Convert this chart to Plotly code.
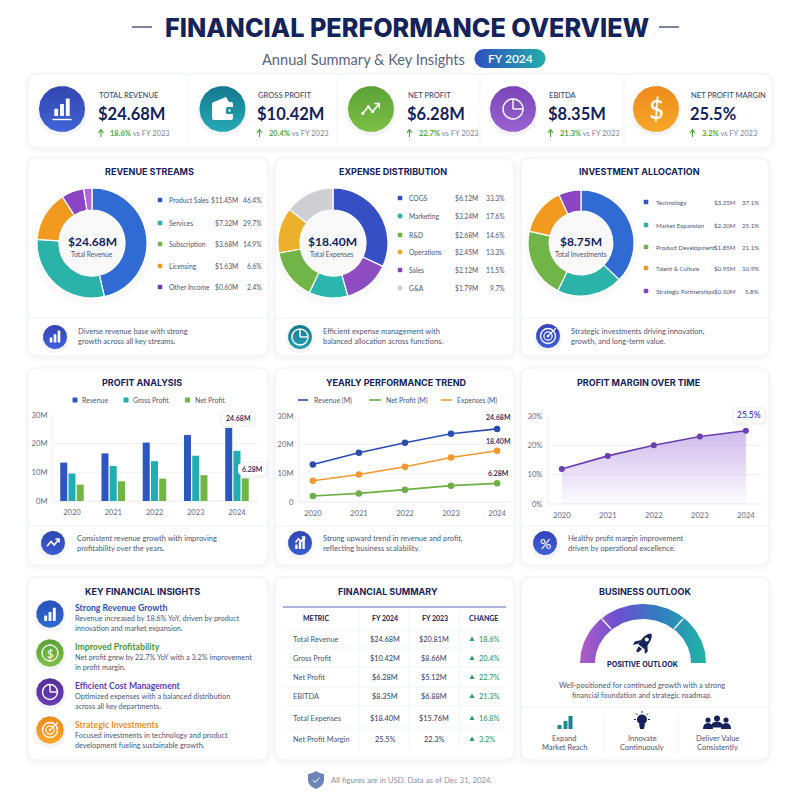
import numpy as np
import plotly.graph_objects as go

# ---------- data ----------
title_text = "FINANCIAL PERFORMANCE OVERVIEW"
subtitle_text = "Annual Summary &amp; Key Insights"
kpi_labels = ["TOTAL REVENUE", "GROSS PROFIT", "NET PROFIT", "EBITDA", "NET PROFIT MARGIN"]
kpi_values = ["$24.68M", "$10.42M", "$6.28M", "$8.35M", "25.5%"]
kpi_deltas = ["18.6%", "20.4%", "22.7%", "21.3%", "3.2%"]

rev_names = ["Product Sales", "Services", "Subscription", "Licensing", "Other Income"]
rev_amounts = ["$11.45M", "$7.32M", "$3.68M", "$1.63M", "$0.60M"]
rev_pcts = ["46.4%", "29.7%", "14.9%", "6.6%", "2.4%"]
rev_slices = [11.45, 7.32, 3.68, 1.63, 0.60]

exp_names = ["COGS", "Marketing", "R&amp;D", "Operations", "Sales", "G&amp;A"]
exp_amounts = ["$6.12M", "$3.24M", "$2.68M", "$2.45M", "$2.12M", "$1.79M"]
exp_pcts = ["33.3%", "17.6%", "14.6%", "13.3%", "11.5%", "9.7%"]
exp_slice_names = ["COGS", "Sales", "Marketing", "R&D", "Operations", "G&A"]
exp_slices = [32.0, 13.7, 11.4, 15.0, 13.3, 14.6]

inv_names = ["Technology", "Market Expansion", "Product Development", "Talent &amp; Culture", "Strategic Partnerships"]
inv_amounts = ["$3.25M", "$2.20M", "$1.85M", "$0.95M", "$0.50M"]
inv_pcts = ["37.1%", "25.1%", "21.1%", "10.9%", "5.8%"]
inv_slices = [37.2, 20.0, 21.4, 14.6, 6.8]

years = ["2020", "2021", "2022", "2023", "2024"]
bar_revenue = [13.4, 16.6, 20.4, 23.0, 25.5]
bar_gross = [9.6, 12.2, 13.9, 15.8, 17.5]
bar_net = [5.7, 6.9, 7.8, 9.0, 7.9]
line_revenue = [13.1, 17.2, 20.7, 23.8, 25.5]
line_net = [2.1, 3.0, 4.3, 5.7, 6.5]
line_expenses = [7.4, 9.6, 12.3, 15.5, 17.9]
margin = [11.9, 16.4, 20.0, 23.0, 25.0]

insight_heads = ["Strong Revenue Growth", "Improved Profitability", "Efficient Cost Management", "Strategic Investments"]
insight_lines = [
    ["Revenue increased by 18.6% YoY, driven by product", "innovation and market expansion."],
    ["Net profit grew by 22.7% YoY with a 3.2% improvement", "in profit margin."],
    ["Optimized expenses with a balanced distribution", "across all key departments."],
    ["Focused investments in technology and product", "development fueling sustainable growth."],
]
table_metrics = ["Total Revenue", "Gross Profit", "Net Profit", "EBITDA", "Total Expenses", "Net Profit Margin"]
table_fy24 = ["$24.68M", "$10.42M", "$6.28M", "$8.35M", "$18.40M", "25.5%"]
table_fy23 = ["$20.81M", "$8.66M", "$5.12M", "$6.88M", "$15.76M", "22.3%"]
table_change = ["18.6%", "20.4%", "22.7%", "21.3%", "16.8%", "3.2%"]

# ---------- style ----------
BODY = "Lato"
HEAD = "Inter"
NAVY = "#14235A"
TXT = "#4A5578"
GRAY = "#5F6B85"
BLUE, TEAL, GREEN, ORANGE, PURPLE = "#2F6BD2", "#2BB3AA", "#71B548", "#F2991F", "#8C45C2"
INDIGO = "#3550C4"

annots, shapes, traces = [], [], []


def T(x, y, s, size=8, color=TXT, w=400, a="left", font=BODY):
    annots.append(dict(x=x, y=y, xref="x", yref="y", text=s, showarrow=False, xanchor=a, yanchor="middle",
                       borderpad=0, font=dict(size=size, color=color, family=font, weight=w)))


def rr_path(x0, y0, x1, y1, r):
    return (f"M{x0+r},{y0} L{x1-r},{y0} Q{x1},{y0} {x1},{y0+r} L{x1},{y1-r} Q{x1},{y1} {x1-r},{y1} "
            f"L{x0+r},{y1} Q{x0},{y1} {x0},{y1-r} L{x0},{y0+r} Q{x0},{y0} {x0+r},{y0} Z")


def P(path, fill="rgba(0,0,0,0)", lc="rgba(0,0,0,0)", lw=0, layer="above"):
    shapes.append(dict(type="path", xref="x", yref="y", path=path, fillcolor=fill, layer=layer,
                       line=dict(color=lc, width=lw)))


def L(x0, y0, x1, y1, c="#EEF0F6", w=1, layer="above"):
    shapes.append(dict(type="line", xref="x", yref="y", x0=x0, y0=y0, x1=x1, y1=y1, layer=layer,
                       line=dict(color=c, width=w)))


def C(cx, cy, r, fill="rgba(0,0,0,0)", lc="rgba(0,0,0,0)", lw=0, layer="above"):
    shapes.append(dict(type="circle", xref="x", yref="y", x0=cx-r, y0=cy-r, x1=cx+r, y1=cy+r, layer=layer,
                       fillcolor=fill, line=dict(color=lc, width=lw)))


def card(x0, y0, x1, y1):
    for d, a in ((5, .006), (3, .010), (1.5, .016)):
        P(rr_path(x0-d, y0-d+2, x1+d, y1+d+2, 10+d), fill=f"rgba(50,60,120,{a})", layer="below")
    P(rr_path(x0, y0, x1, y1, 9), fill="#FFFFFF", lc="#EFF1F7", lw=1, layer="below")


def grad_poly(xs, ys, stops, kind="vertical"):
    traces.append(go.Scatter(x=list(xs), y=list(ys), mode="lines", line=dict(width=0), fill="toself",
                             fillgradient=dict(type=kind, colorscale=stops), hoverinfo="skip",
                             showlegend=False, xaxis="x", yaxis="y"))


def grad_circle(cx, cy, r, c_top, c_bot):
    C(cx, cy+2, r+2, fill="rgba(60,70,120,0.06)", layer="below")
    th = np.linspace(0, 2*np.pi, 90)
    grad_poly(cx+r*np.cos(th), cy+r*np.sin(th), [[0, c_top], [1, c_bot]])


def bars_icon(cx, cy, s, c="#FFFFFF", base=False):
    bw = s*0.24
    for i, h in enumerate((0.45, 0.75, 1.1)):
        x = cx + (i-1)*s*0.36
        P(rr_path(x-bw/2, cy+s*0.5-h*s, x+bw/2, cy+s*0.5, min(.6, bw/3)), fill=c)
    if base:
        L(cx-s*.6, cy+s*.72, cx+s*.6, cy+s*.72, c, 1.4)


def trend_icon(cx, cy, s, c="#FFFFFF", dots=True):
    pts = [(-.75, .4), (-.25, -.2), (.15, .25), (.7, -.45)]
    P("M" + " L".join(f"{cx+a*s},{cy+b*s}" for a, b in pts), lc=c, lw=1.6)
    if dots:
        for a, b in pts[:3]:
            C(cx+a*s, cy+b*s, 1.6, fill=c)
    P(f"M{cx+.3*s},{cy-.5*s} L{cx+.75*s},{cy-.5*s} L{cx+.75*s},{cy-.05*s}", lc=c, lw=1.6)


def pie_icon(cx, cy, r, c="#FFFFFF"):
    C(cx, cy, r, lc=c, lw=1.4)
    L(cx, cy, cx, cy-r, c, 1.4)
    L(cx, cy, cx+r, cy, c, 1.4)


def target_icon(cx, cy, r, c="#FFFFFF"):
    C(cx, cy, r, lc=c, lw=1.3)
    C(cx, cy, r*.55, lc=c, lw=1.2)
    C(cx, cy, r*.18, fill=c)
    L(cx, cy, cx+r*1.05, cy-r*1.05, c, 1.3)


def note(ix, iy, tx, lines, c_top, c_bot, draw, ly=(0, 0)):
    grad_circle(ix, iy, 12, c_top, c_bot)
    draw(ix, iy)
    T(tx, ly[0], lines[0], 7.5, TXT)
    T(tx, ly[1], lines[1], 7.5, TXT)


def legend_table(mx, lx, vx, px, ys, colors, names, amts, pcts, name_size=6.7, val_size=6.7):
    for i, y in enumerate(ys):
        P(rr_path(mx-2.3, y-2.3, mx+2.3, y+2.3, 1), fill=colors[i])
        T(lx, y, names[i], name_size, TXT)
        T(vx, y, amts[i], val_size, TXT, a="right")
        T(px, y, pcts[i], val_size, TXT, a="right")


# ---------- header ----------
T(407, 28, title_text, 25.2, NAVY, 800, "center", HEAD)
L(132, 27, 152, 27, "#5A6484", 1.6)
L(659, 27, 679, 27, "#5A6484", 1.6)
T(363.5, 59, subtitle_text, 14.6, "#5A6580", 400, "center")
th_l = np.linspace(np.pi/2, 3*np.pi/2, 24)
th_r = np.linspace(-np.pi/2, np.pi/2, 24)
grad_poly(np.r_[484+9.5*np.cos(th_l), 536+9.5*np.cos(th_r)], np.r_[58.5+9.5*np.sin(th_l), 58.5+9.5*np.sin(th_r)],
          [[0, "#2F4FC0"], [1, "#22ADAC"]], "horizontal")
T(510, 58.5, "FY 2024", 12, "#FFFFFF", 600, "center")

# ---------- KPI band ----------
card(28, 74, 772, 148)
kpi_cx = [62, 222.5, 371, 513, 656]
kpi_tx = [98, 256.5, 406.5, 547.5, 689.5]
kpi_grad = [("#3F63D6", "#3346B0"), ("#25AAB4", "#14788F"), ("#7DBF45", "#5BA238"),
            ("#9A62D2", "#7A45B8"), ("#F8A828", "#EE8A1E")]
for x in (188, 337, 480, 624):
    L(x, 78, x, 144, "#F1F3F8", 1)
for i in range(5):
    grad_circle(kpi_cx[i], 109, 23, *kpi_grad[i])
    T(kpi_tx[i], 95, kpi_labels[i], 7.6, "#3E4A6E", 500)
    T(kpi_tx[i]-1, 114, kpi_values[i], 16.5, NAVY, 700)
    dx = kpi_tx[i]
    P(f"M{dx+3},{133+4} L{dx+3},{133-3} M{dx+.5},{133} L{dx+3},{133-3.5} L{dx+5.5},{133}", lc="#4CA63F", lw=1.1)
    T(dx+11, 133, f"<b>{kpi_deltas[i]}</b> <span style='color:#7A849B'>vs FY 2023</span>", 7.5, "#4CA63F")
bars_icon(62, 108, 16, base=True)
P(rr_path(212, 102, 233, 120, 2), fill="#FFFFFF")
P("M214,102 L226,97 L229,102 Z", fill="#FFFFFF")
P(rr_path(226, 107, 234, 114, 1.5), fill="#1E8FA3")
C(229.5, 110.5, 1.2, fill="#FFFFFF")
trend_icon(371, 109, 11)
pie_icon(513, 109, 10)
T(656, 109, "$", 26, "#FFFFFF", 500, "center")

# ---------- row 2: donuts ----------
row2_x = [(28, 268), (275, 514), (521, 769)]
for x0, x1 in row2_x:
    card(x0, 158, x1, 356)
    L(x0, 318, x1, 318, "#F0F2F7", 1)
T(149, 171, "REVENUE STREAMS", 9, NAVY, 700, "center", HEAD)
T(393, 171, "EXPENSE DISTRIBUTION", 9, NAVY, 700, "center", HEAD)
T(639, 171, "INVESTMENT ALLOCATION", 9, NAVY, 700, "center", HEAD)


def donut(cx, cy, r, labels, vals, colors, hole=0.6):
    for d, a in ((6, .012), (3, .02)):
        C(cx, cy+3, r+d, fill=f"rgba(60,70,120,{a})", layer="below")
    traces.append(go.Pie(labels=labels, values=vals, hole=hole, sort=False, direction="clockwise", rotation=0,
                         textinfo="none", hoverinfo="label+percent", showlegend=False,
                         marker=dict(colors=colors, line=dict(color="#FFFFFF", width=1.2)),
                         domain=dict(x=[(cx-r)/800, (cx+r)/800], y=[1-(cy+r)/800, 1-(cy-r)/800])))


donut(92, 243, 55, rev_names, rev_slices, [BLUE, TEAL, ORANGE, PURPLE, "#A96AD2"])
donut(333, 243, 55, exp_slice_names, exp_slices, [INDIGO, "#8D4DC0", "#2BB5AC", GREEN, "#EDB02D", "#CFCFD3"])
donut(581, 243, 53, inv_names, inv_slices, [BLUE, "#2BB3AA", GREEN, ORANGE, PURPLE])

T(92, 241, "$24.68M", 12, NAVY, 700, "center")
T(92, 254, "Total Revenue", 6.7, TXT, 400, "center")
T(332, 241, "$18.40M", 12, NAVY, 700, "center")
T(332, 254, "Total Expenses", 6.7, TXT, 400, "center")
T(581, 241, "$8.75M", 12, NAVY, 700, "center")
T(581, 254, "Total Investments", 6.7, TXT, 400, "center")

legend_table(160, 168, 239, 263, [200, 223, 244, 266, 287],
             ["#2F55C8", "#2BB3AA", GREEN, ORANGE, "#6E3FA8"], rev_names, rev_amounts, rev_pcts)
legend_table(400, 408, 479, 506, [198, 216, 235, 252, 270, 288],
             ["#2F4FB8", "#2BB3AA", GREEN, "#EDB02D", PURPLE, "#CFCFD3"], exp_names, exp_amounts, exp_pcts)
legend_table(646, 655, 737, 760, [202, 225, 247, 268, 291],
             ["#2F55C8", "#2BB3AA", GREEN, ORANGE, PURPLE], inv_names, inv_amounts, inv_pcts, 6.1, 6.2)

note(55, 337, 77, ["Diverse revenue base with strong", "growth across all key streams."], "#4060D8", "#3444B8",
     lambda x, y: bars_icon(x, y, 11), (331, 341))
note(300, 337, 322, ["Efficient expense management with", "balanced allocation across functions."], "#25A0AE", "#167A90",
     lambda x, y: pie_icon(x, y, 8), (331, 341))
note(548, 336, 570, ["Strategic investments driving innovation,", "growth, and long-term value."], "#4060D8", "#3444B8",
     lambda x, y: target_icon(x, y, 7.5), (331, 341))

# ---------- row 3: charts ----------
for x0, x1 in row2_x:
    card(x0, 368, x1, 565)
    L(x0, 526, x1, 526, "#F0F2F7", 1)
T(142, 382, "PROFIT ANALYSIS", 9, NAVY, 700, "center", HEAD)
T(396, 382, "YEARLY PERFORMANCE TREND", 9, NAVY, 700, "center", HEAD)
T(638, 382, "PROFIT MARGIN OVER TIME", 9, NAVY, 700, "center", HEAD)

BAR_BLUE, BAR_TEAL, BAR_GREEN = "#2A57C0", "#20AEB0", "#70B545"
for name, vals, col in (("Revenue", bar_revenue, BAR_BLUE), ("Gross Profit", bar_gross, BAR_TEAL),
                        ("Net Profit", bar_net, BAR_GREEN)):
    traces.append(go.Bar(x=years, y=vals, name=name, marker=dict(color=col, line=dict(width=0)), showlegend=False,
                         xaxis="x2", yaxis="y2"))
for name, vals, col in (("Revenue (M)", line_revenue, "#2A4DB0"), ("Net Profit (M)", line_net, "#6DAE45"),
                        ("Expenses (M)", line_expenses, "#F2992E")):
    traces.append(go.Scatter(x=years, y=vals, name=name, mode="lines+markers", showlegend=False,
                             line=dict(color=col, width=1.6), marker=dict(color=col, size=6.5),
                             xaxis="x3", yaxis="y3"))
traces.append(go.Scatter(x=years, y=margin, name="Net Profit Margin", mode="lines+markers", showlegend=False,
                         line=dict(color="#6A3DB0", width=1.6), marker=dict(color="#6A3DB0", size=6),
                         fill="tozeroy",
                         fillgradient=dict(type="vertical", colorscale=[[0, "rgba(140,90,210,0.02)"],
                                                                        [1, "rgba(140,90,210,0.42)"]]),
                         xaxis="x4", yaxis="y4"))

for x, c, s, tx in ((75, BAR_BLUE, "Revenue", 80.5), (126, BAR_TEAL, "Gross Profit", 132), (187.5, BAR_GREEN, "Net Profit", 193.5)):
    P(rr_path(x-2.5, 400-2.5, x+2.5, 400+2.5, .5), fill=c)
    T(tx, 400, s, 6.9, TXT)
for x0, x1, c, s, tx in ((298, 308, "#2A4DB0", "Revenue (M)", 313), (369, 381, "#6DAE45", "Net Profit (M)", 385),
                         (441, 452, "#F2992E", "Expenses (M)", 456)):
    L(x0, 400, x1, 400, c, 1.6)
    T(tx, 400, s, 6.9, TXT)


def tag(cx, cy, w, h, s, color=NAVY, size=7, weight=600):
    P(rr_path(cx-w/2-2, cy-h/2-1, cx+w/2+2, cy+h/2+3, 5), fill="rgba(60,70,120,0.06)")
    P(rr_path(cx-w/2, cy-h/2, cx+w/2, cy+h/2, 4), fill="#FFFFFF")
    P(f"M{cx-3},{cy+h/2} L{cx},{cy+h/2+3} L{cx+3},{cy+h/2} Z", fill="#FFFFFF")
    T(cx, cy, s, size, color, weight, "center")


tag(238, 418, 32, 13, "24.68M")
tag(252, 469, 28, 12, "6.28M")
T(498, 417, "24.68M", 7, NAVY, 600, "center")
T(498, 441, "18.40M", 7, NAVY, 600, "center")
T(498, 473, "6.28M", 7, NAVY, 600, "center")
tag(749, 415, 30, 14, "25.5%", "#4A3FB5", 8.5, 600)

note(53, 543, 76, ["Consistent revenue growth with improving", "profitability over the years."], "#3A5CD0", "#2F46B0",
     lambda x, y: trend_icon(x, y, 8, dots=False), (538, 548))
note(300, 543, 322, ["Strong upward trend in revenue and profit,", "reflecting business scalability."], "#3A5CD0", "#2F46B0",
     lambda x, y: (bars_icon(x, y+1, 10), trend_icon(x, y-3, 6, dots=False)), (538, 548))
note(545, 543, 567, ["Healthy profit margin improvement", "driven by operational excellence."], "#4060D8", "#3444B8",
     lambda x, y: T(x, y, "%", 14, "#FFFFFF", 500, "center"), (538, 548))

# ---------- row 4 ----------
for x0, x1 in row2_x:
    card(x0, 577, x1, 760)
T(142, 591, "KEY FINANCIAL INSIGHTS", 9, NAVY, 700, "center", HEAD)
T(388, 591, "FINANCIAL SUMMARY", 9, NAVY, 700, "center", HEAD)
T(645, 591, "BUSINESS OUTLOOK", 9, NAVY, 700, "center", HEAD)

ins_icon_y = [614, 653, 692, 730]
ins_head_y = [607, 646, 685, 724]
ins_line_y = [(618, 628), (657, 667), (696, 706), (735, 745)]
ins_colors = ["#2E50B5", "#3F9A3A", "#5B3DB5", "#E8912A"]
ins_grad = [("#2F6BD2", "#2A50B8"), ("#7DBF45", "#5BA238"), ("#6A3DB0", "#55309A"), ("#F8A828", "#EE8A1E")]
for i in range(4):
    grad_circle(50, ins_icon_y[i], 13.7, *ins_grad[i])
    T(73.5, ins_head_y[i], insight_heads[i], 8.7, ins_colors[i], 700)
    T(73.5, ins_line_y[i][0], insight_lines[i][0], 7.3, TXT)
    T(73.5, ins_line_y[i][1], insight_lines[i][1], 7.3, TXT)
bars_icon(50, 615, 12)
C(50, 653, 8, lc="#FFFFFF", lw=1.3)
T(50, 653, "$", 11, "#FFFFFF", 600, "center")
pie_icon(50, 692, 7.5)
target_icon(50, 730, 7.5)

L(283, 607, 506, 607, "#8F9AD0", 1.6)
for x, s in ((316, "METRIC"), (385, "FY 2024"), (435, "FY 2023"), (483, "CHANGE")):
    T(x, 618, s, 7, NAVY, 700, "center")
for x in (359, 409, 459):
    L(x, 610, x, 748, "#F2F4F9", 1)
for y in (630, 648, 667, 687, 706, 728):
    L(283, y, 506, y, "#F2F4F9", 1)
row_y = [639, 658, 677, 696, 718, 739]
for i, y in enumerate(row_y):
    T(292, y, table_metrics[i], 7.4, TXT)
    T(385, y, table_fy24[i], 7.3, "#3D4A6B", 500, "center")
    T(434, y, table_fy23[i], 7.3, "#3D4A6B", 500, "center")
    P(f"M{472-2.6},{y+2} L{472},{y-2.4} L{472+2.6},{y+2} Z", fill="#2E9E6A")
    T(478, y, table_change[i], 7.4, "#2E9E6A", 500)

P("M316,771 Q320,774 324,774 L324,780 Q324,786 316,789 Q308,786 308,780 L308,774 Q312,774 316,771 Z", fill="#6B85B8")
P("M312.8,780 L315.2,782.4 L319.4,777.6", lc="#FFFFFF", lw=1)
T(330, 780, "All figures are in USD. Data as of Dec 31, 2024.", 7.8, "#8A93A8")

# gauge
gx, gy, ro_x, ro_y, ri_x, ri_y = 643, 663, 63, 59, 48, 44
th = np.linspace(np.pi, 2*np.pi, 80)
grad_poly(np.r_[gx+ro_x*np.cos(th), gx+ri_x*np.cos(th[::-1])], np.r_[gy+ro_y*np.sin(th), gy+ri_y*np.sin(th[::-1])],
          [[0, "#B05CC8"], [.3, "#6C4FD0"], [.65, "#2F80C0"], [1, "#22B5A5"]], "horizontal")
L(602, 619, 611, 629, "#FFFFFF", 1.3)
L(683, 619, 674, 629, "#FFFFFF", 1.3)

# rocket
rc, rs = np.cos(np.radians(38))*.75, np.sin(np.radians(38))*.75


def rot(pts, cx=644, cy=643):
    return [(cx+a*rc-b*rs, cy+a*rs+b*rc) for a, b in pts]


def poly(pts, fill=NAVY):
    P("M" + " L".join(f"{x:.1f},{y:.1f}" for x, y in pts) + " Z", fill=fill)


poly(rot([(0, -16), (3, -13), (5, -8), (5.5, -2), (5, 6), (-5, 6), (-5.5, -2), (-5, -8), (-3, -13)]))
poly(rot([(-5, -1), (-11, 6), (-10, 11), (-5, 5)]))
poly(rot([(5, -1), (11, 6), (10, 11), (5, 5)]))
poly(rot([(-3, 8), (3, 8), (1.5, 15), (-1.5, 15)]))
cw = rot([(0, -6)])[0]
C(cw[0], cw[1], 2, fill="#FFFFFF")

T(642, 664, "POSITIVE OUTLOOK", 7.2, NAVY, 700, "center", HEAD)
T(642, 685, "Well-positioned for continued growth with a strong", 7.4, TXT, 400, "center")
T(642, 695, "financial foundation and strategic roadmap.", 7.4, TXT, 400, "center")
L(521, 707, 769, 707, "#F0F2F7", 1)
L(604, 715, 604, 753, "#F0F2F7", 1)
L(678, 715, 678, 753, "#F0F2F7", 1)
for x, a, b in ((564, "Expand", "Market Reach"), (642, "Innovate", "Continuously"), (717, "Deliver Value", "Consistently")):
    T(x, 738, a, 7.5, TXT, 400, "center")
    T(x, 747, b, 7.5, TXT, 400, "center")
for x, h, c in ((559.5, 4, "#1E8A96"), (565.5, 8, "#1E8A96"), (570.5, 13, "#1A7F8E")):
    P(rr_path(x-2, 729-h, x+2, 729, .5), fill=c)
C(642, 719.5, 5, fill=NAVY)
P("M639,724 L645,724 L644,729 L640,729 Z", fill=NAVY)
for a, b, c, d in ((634, 719.5, 636, 719.5), (648, 719.5, 650, 719.5), (642, 711, 642, 713), (636, 713.5, 637.5, 715), (648, 713.5, 646.5, 715)):
    L(a, b, c, d, NAVY, 1)
for cx, cy, r, w in ((708, 720, 2.6, 5), (717, 718.5, 3, 6), (726, 720, 2.6, 5)):
    C(cx, cy, r, fill=NAVY)
    P(f"M{cx-w},{cy+9} Q{cx-w},{cy+3} {cx},{cy+3} Q{cx+w},{cy+3} {cx+w},{cy+9} Z", fill=NAVY)

# ---------- figure ----------
fig = go.Figure(traces)


def axis_pair(l, r, t, b, xr, yr, ytexts, yvals, n):
    xa = dict(domain=[l/800, r/800], range=xr, anchor=f"y{n}", type="category", showgrid=False, zeroline=False,
              showline=False, ticks="outside", ticklen=4, tickcolor="rgba(0,0,0,0)",
              tickfont=dict(size=7.6, color=GRAY, family=BODY), fixedrange=True)
    ya = dict(domain=[1-b/800, 1-t/800], range=yr, anchor=f"x{n}", tickvals=yvals, ticktext=ytexts,
              showgrid=True, gridcolor="#F2F4F8", gridwidth=1, zeroline=True, zerolinecolor="#F2F4F8",
              showline=True, linecolor="#F0F2F7", ticks="outside", ticklen=3, tickcolor="rgba(0,0,0,0)",
              tickfont=dict(size=7.6, color=GRAY, family=BODY), fixedrange=True)
    return xa, ya


x2, y2 = axis_pair(53, 258, 415, 501, [-0.46, 4.51], [0, 30], ["0M", "10M", "20M", "30M"], [0, 10, 20, 30], 2)
x3, y3 = axis_pair(299, 510, 416, 502, [-0.30, 4.28], [0, 30], ["0", "10M", "20M", "30M"], [0, 10, 20, 30], 3)
x4, y4 = axis_pair(548, 762, 416, 504, [-0.30, 4.35], [0, 30], ["0%", "10%", "20%", "30%"], [0, 10, 20, 30], 4)

fig.update_layout(
    width=800, height=800, margin=dict(l=0, r=0, t=0, b=0, autoexpand=False), paper_bgcolor="#FFFFFF",
    plot_bgcolor="rgba(0,0,0,0)",
    showlegend=False, barmode="group", bargap=0.4, bargroupgap=0.15, hovermode="closest",
    xaxis=dict(domain=[0, 1], range=[0, 800], visible=False, fixedrange=True),
    yaxis=dict(domain=[0, 1], range=[800, 0], visible=False, fixedrange=True),
    xaxis2=x2, yaxis2=y2, xaxis3=x3, yaxis3=y3, xaxis4=x4, yaxis4=y4,
    shapes=shapes, annotations=annots,
)
fig.write_html("out.html", config={"displayModeBar": False},
               post_script="document.body.style.margin='0';document.body.style.overflow='hidden';")
